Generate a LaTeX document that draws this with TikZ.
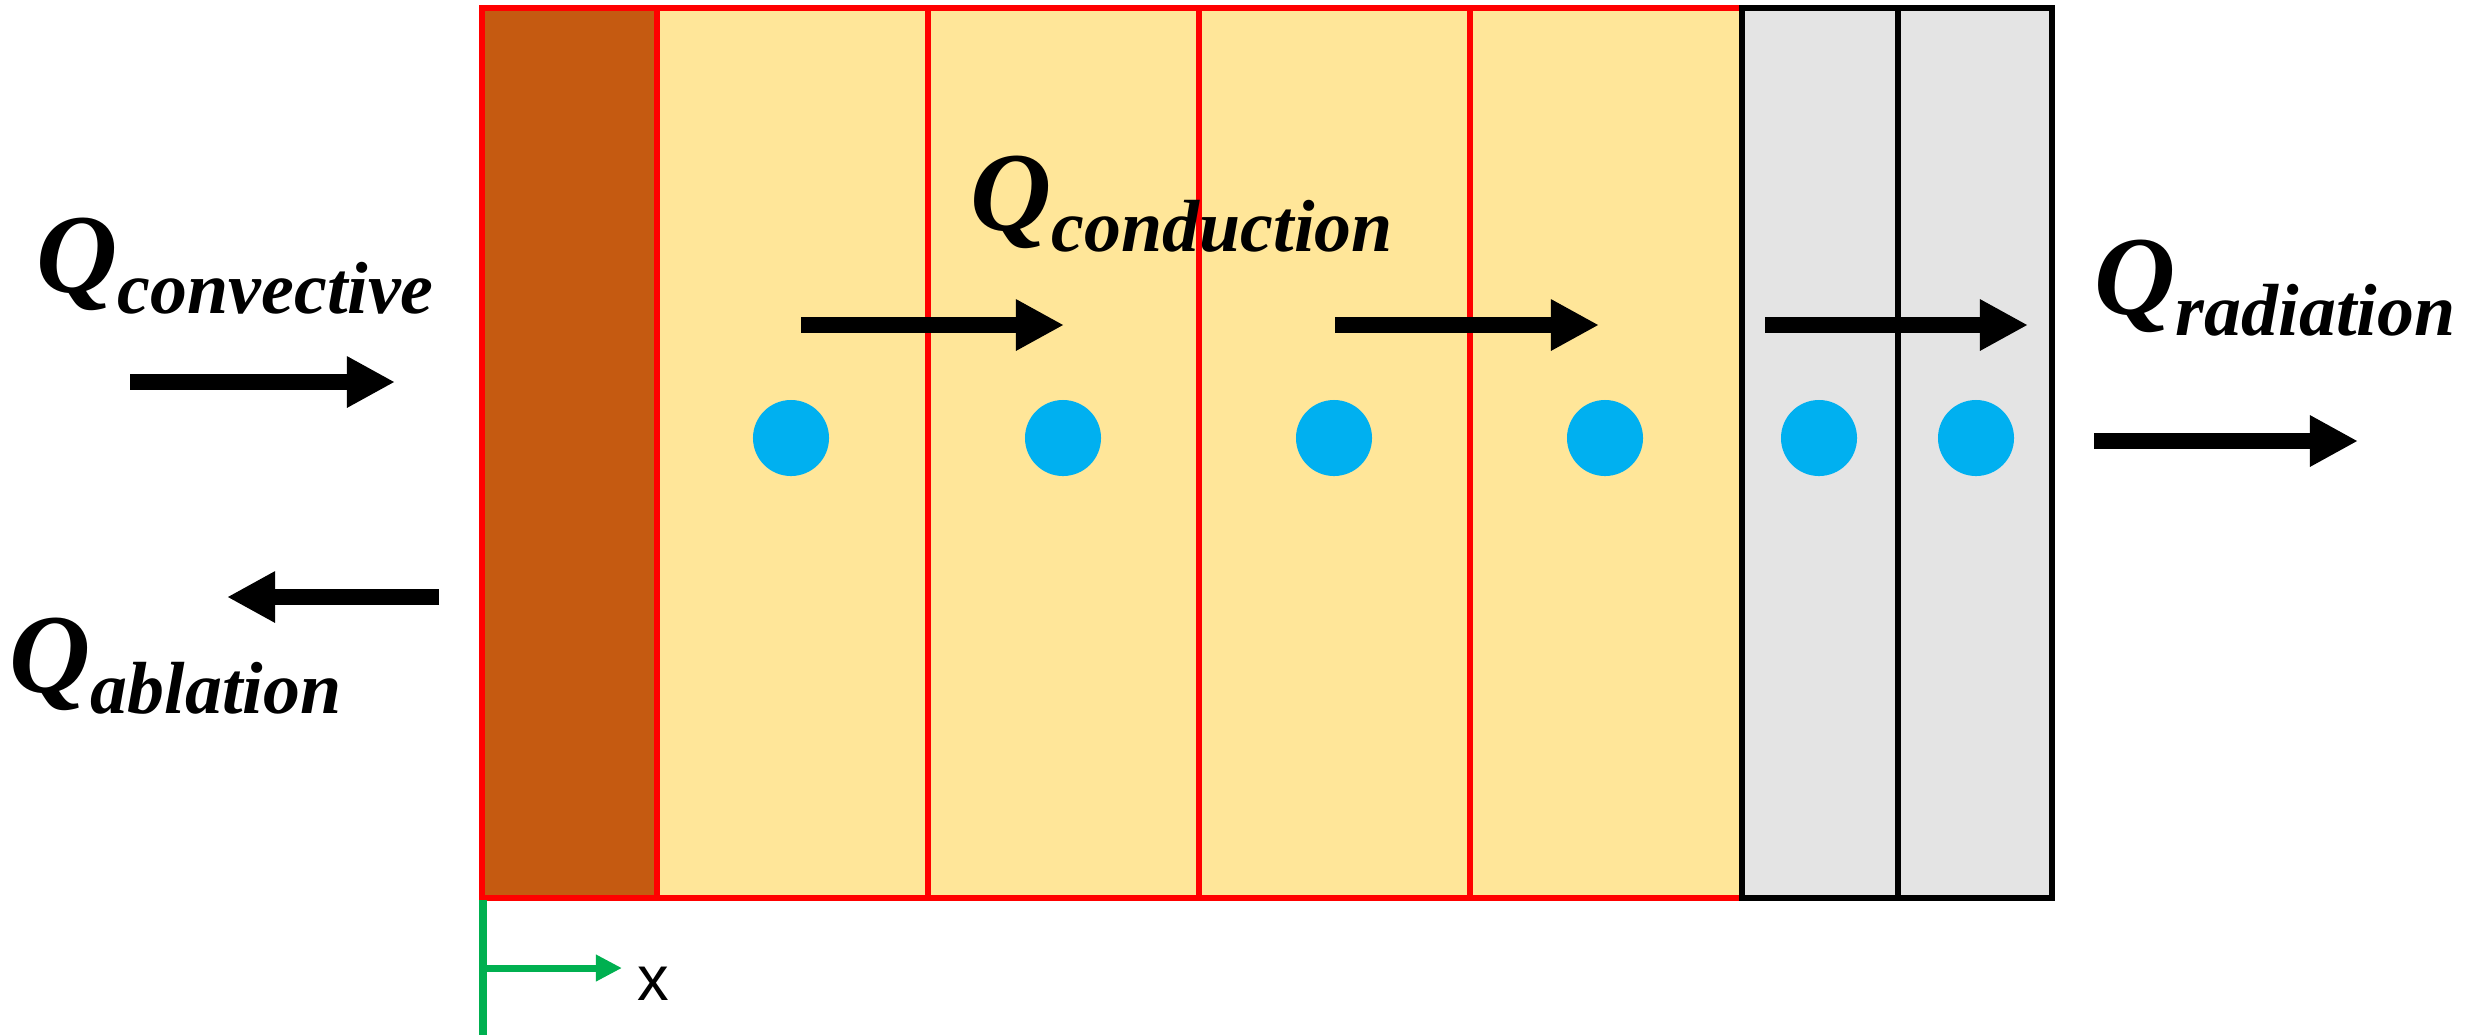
\documentclass[tikz,border=0pt]{standalone}
\usepackage{fontspec}
\setmainfont{Liberation Serif}
\newfontfamily\labsans{Liberation Sans}
\usetikzlibrary{arrows.meta}
\definecolor{brownc}{HTML}{C55A11}
\definecolor{yellowc}{HTML}{FFE699}
\definecolor{grayc}{HTML}{E4E4E4}
\definecolor{redc}{HTML}{FF0000}
\definecolor{cyanc}{HTML}{00B0F0}
\definecolor{greenc}{HTML}{00B050}
\newcommand{\qlabel}[1]{{\fontsize{32}{34}\selectfont\bfseries\itshape Q}\raisebox{-6pt}{\fontsize{21}{23}\selectfont\bfseries\itshape #1}}
\begin{document}
\begin{tikzpicture}[x=0.01cm,y=-0.01cm,
  cell/.style={rectangle,inner sep=0pt,outer sep=0pt,minimum height=8.9cm,line width=1.7pt},
  dot/.style={circle,fill=cyanc,inner sep=0pt,minimum size=0.76cm},
  flow/.style={line width=4.5pt,-{Triangle[length=0.48cm,width=0.48cm]}},
  qlab/.style={anchor=base west,inner sep=0pt},
]
\useasboundingbox (0,0) rectangle (2487,1035);
% cells
\node[cell,draw=redc,fill=brownc,minimum width=1.75cm] (c0) at (569.5,453) {};
\node[cell,draw=redc,fill=yellowc,minimum width=2.71cm] (c1) at (792.5,453) {};
\node[cell,draw=redc,fill=yellowc,minimum width=2.71cm] (c2) at (1063.5,453) {};
\node[cell,draw=redc,fill=yellowc,minimum width=2.71cm] (c3) at (1334.5,453) {};
\node[cell,draw=redc,fill=yellowc,minimum width=2.72cm] (c4) at (1606,453) {};
\node[cell,draw=black,fill=grayc,minimum width=1.56cm] (c5) at (1820,453) {};
\node[cell,draw=black,fill=grayc,minimum width=1.54cm] (c6) at (1975,453) {};
% dots
\node[dot] (d1) at (791,438) {};
\node[dot] (d2) at (1063,438) {};
\node[dot] (d3) at (1334,438) {};
\node[dot] (d4) at (1605,438) {};
\node[dot] (d5) at (1819,438) {};
\node[dot] (d6) at (1976,438) {};
% arrows
\coordinate (cva) at (130,382); \coordinate (cvb) at (395,382);
\coordinate (aba) at (439,597); \coordinate (abb) at (227,597);
\coordinate (k1a) at (801,325); \coordinate (k1b) at (1064,325);
\coordinate (k2a) at (1335,325); \coordinate (k2b) at (1599,325);
\coordinate (k3a) at (1765,325); \coordinate (k3b) at (2028,325);
\coordinate (raa) at (2094,441); \coordinate (rab) at (2358,441);
\draw[flow] (cva) -- (cvb);
\draw[flow] (aba) -- (abb);
\draw[flow] (k1a) -- (k1b);
\draw[flow] (k2a) -- (k2b);
\draw[flow] (k3a) -- (k3b);
\draw[flow] (raa) -- (rab);
% labels
\node[qlab] (lcv) at (36,292) {\qlabel{convective}};
\node[qlab] (lcd) at (970,230) {\qlabel{conduction}};
\node[qlab] (lra) at (2094,314) {\qlabel{radiation}};
\node[qlab] (lab) at (9,692) {\qlabel{ablation}};
% axis
\coordinate (ax0) at (483,900); \coordinate (ax1) at (483,1035);
\coordinate (axo) at (483,968); \coordinate (axx) at (622,968);
\draw[greenc,line width=2pt] (ax0) -- (ax1);
\draw[greenc,line width=2pt,-{Triangle[length=0.26cm,width=0.25cm]}] (axo) -- (axx);
\node[anchor=center,inner sep=0pt] (xl) at (653,984) {\labsans\fontsize{18}{20}\selectfont x};
\end{tikzpicture}
\end{document}
